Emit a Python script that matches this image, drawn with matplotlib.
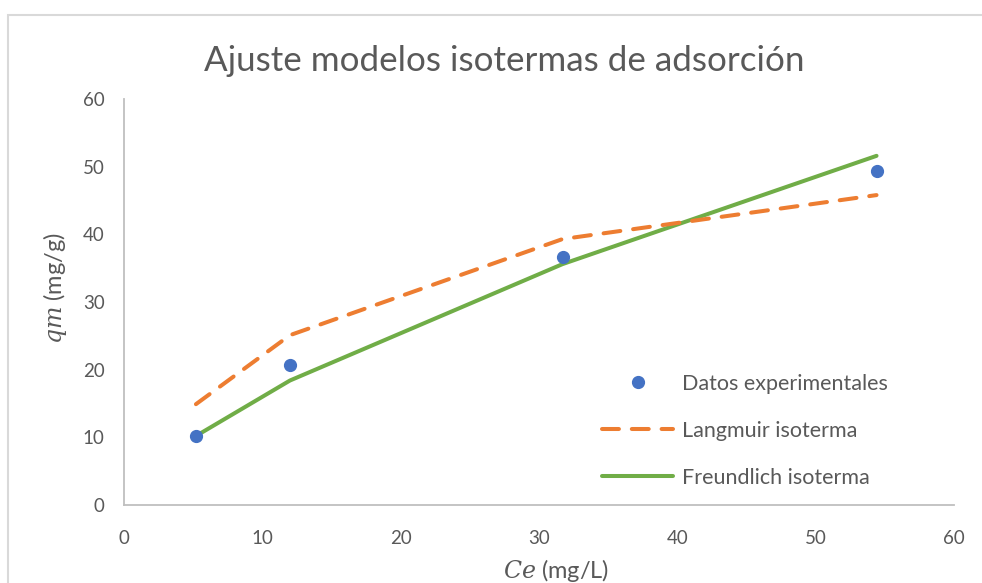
import matplotlib
matplotlib.use("Agg")
import matplotlib.pyplot as plt
from matplotlib.patches import Rectangle

# datos
ce = [5.2, 12.0, 31.7, 54.4]
qm_exp = [10.2, 20.7, 36.7, 49.3]
qm_langmuir = [14.9, 25.1, 39.3, 45.8]
qm_freundlich = [10.2, 18.4, 35.6, 51.6]

x_ticks = [0, 10, 20, 30, 40, 50, 60]
y_ticks = [0, 10, 20, 30, 40, 50, 60]

azul = '#4472C4'
naranja = '#ED7D31'
verde = '#70AD47'
gris = '#595959'

plt.rcParams['font.family'] = ['Lato', 'DejaVu Sans']
plt.rcParams['mathtext.fontset'] = 'dejavuserif'

fig = plt.figure(figsize=(9.82, 5.83), dpi=100)
W, H = 982, 583

# marco del grafico (se sale por la derecha y por abajo)
fig.patches.append(Rectangle((8 / W, -0.5), 2.0, 1.5 - 15 / H, transform=fig.transFigure,
                             fill=False, edgecolor='#D9D9D9', linewidth=1.5))

ax = fig.add_axes([124 / W, 1 - 505 / H, (954 - 124) / W, (505 - 99) / H])

ax.plot(ce, qm_exp, 'o', color=azul, markersize=8.5, label='Datos experimentales', zorder=4)
ax.plot(ce, qm_langmuir, color=naranja, linewidth=2.9, dashes=(4.2, 3.2),
        dash_capstyle='round', solid_capstyle='round', label='Langmuir isoterma', zorder=3)
ax.plot(ce, qm_freundlich, color=verde, linewidth=2.9, solid_capstyle='round',
        label='Freundlich isoterma', zorder=2)

ax.set_xlim(0, 60)
ax.set_ylim(0, 60)
ax.set_xticks(x_ticks)
ax.set_yticks(y_ticks)
ax.tick_params(axis='both', length=0, labelsize=13.5, labelcolor=gris)
ax.tick_params(axis='x', pad=18)
ax.tick_params(axis='y', pad=14)

for s in ['top', 'right']:
    ax.spines[s].set_visible(False)
for s in ['left', 'bottom']:
    ax.spines[s].set_color('#BFBFBF')
    ax.spines[s].set_linewidth(1.3)

xl = ax.set_xlabel('$Ce$ (mg/L)', fontsize=17, color=gris)
yl = ax.set_ylabel('$qm$ (mg/g)', fontsize=17, color=gris)
xl.set_verticalalignment('center')
yl.set_verticalalignment('center')
ax.xaxis.set_label_coords((556 - 124) / 830, (505 - 570) / 406)
ax.yaxis.set_label_coords((55 - 124) / 830, (505 - 288) / 406)

fig.text(504 / W, 1 - 61 / H, 'Ajuste modelos isotermas de adsorción', fontsize=25.2,
         color=gris, ha='center', va='center')

leg = ax.legend(loc='lower left', bbox_to_anchor=((583 - 124) / 830, -0.005), frameon=False,
                fontsize=15.5, handlelength=3.3, labelspacing=1.25, handletextpad=0.4,
                labelcolor=gris)

fig.savefig('out.png', dpi=100)
